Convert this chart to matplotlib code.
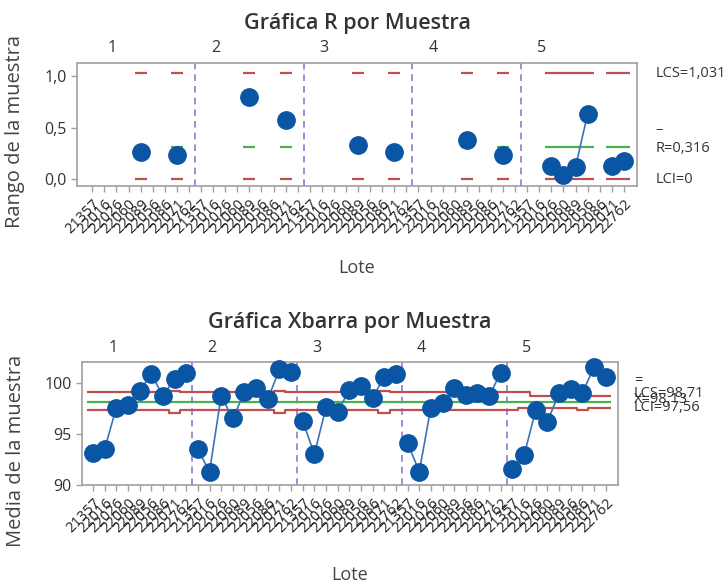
import numpy as np
import matplotlib
matplotlib.use("Agg")
import matplotlib.pyplot as plt

plt.rcParams['font.family'] = ['Open Sans', 'DejaVu Sans']

# ---------------- data ----------------
muestras = ['1', '2', '3', '4', '5']
lotes = ['21357', '22016', '22026', '22060', '22089', '22056', '22086', '22071', '22762']

# R chart: range per lote (NaN = no range)
rango = [
    [np.nan, np.nan, np.nan, np.nan, 0.27, np.nan, np.nan, 0.24, np.nan],
    [np.nan, np.nan, np.nan, np.nan, 0.805, np.nan, np.nan, 0.572, np.nan],
    [np.nan, np.nan, np.nan, np.nan, 0.33, np.nan, np.nan, 0.267, np.nan],
    [np.nan, np.nan, np.nan, np.nan, 0.378, np.nan, np.nan, 0.238, np.nan],
    [np.nan, np.nan, 0.128, 0.04, 0.12, 0.634, np.nan, 0.128, 0.18],
]
r_lcs = 1.031
r_centro = 0.316
r_lci = 0.0

# Xbar chart: mean per lote
media = [
    [93.16, 93.5, 97.56, 97.8, 99.19, 100.85, 98.7, 100.4, 100.9],
    [93.5, 91.3, 98.7, 96.5, 99.05, 99.5, 98.37, 101.3, 101.0],
    [96.25, 93.0, 97.6, 97.17, 99.28, 99.7, 98.53, 100.59, 100.8],
    [94.14, 91.3, 97.56, 97.98, 99.45, 98.8, 98.96, 98.7, 100.98],
    [91.6, 92.9, 97.33, 96.2, 98.96, 99.35, 99.0, 101.5, 100.6],
]
x_lcs = [
    [99.05, 99.05, 99.05, 99.05, 99.05, 99.05, 99.05, 99.19, 99.05],
    [99.05, 99.05, 99.05, 99.05, 99.05, 99.05, 99.05, 99.19, 99.05],
    [99.05, 99.05, 99.05, 99.05, 99.05, 99.05, 99.05, 99.19, 99.05],
    [99.05, 99.05, 99.05, 99.05, 99.05, 99.05, 99.05, 99.05, 99.05],
    [99.05, 99.05, 98.71, 98.71, 98.71, 98.71, 98.71, 98.71, 98.71],
]
x_lci = [
    [97.3, 97.3, 97.3, 97.3, 97.3, 97.3, 97.3, 97.05, 97.3],
    [97.3, 97.3, 97.3, 97.3, 97.3, 97.3, 97.3, 97.05, 97.3],
    [97.3, 97.3, 97.3, 97.3, 97.3, 97.3, 97.3, 97.05, 97.3],
    [97.3, 97.3, 97.3, 97.3, 97.3, 97.3, 97.3, 97.3, 97.3],
    [97.3, 97.56, 97.56, 97.56, 97.56, 97.56, 97.3, 97.56, 97.56],
]
x_centro = 98.13

# ---------------- style ----------------
AZUL = '#0B56A4'
LINEA = '#3A73B8'
ROJO = '#C0504D'
VERDE = '#4CAF50'
MORADO = '#8E7CCF'
GRIS = '#A0A0A0'
TXT = '#333333'

W, H = 728, 585
fig = plt.figure(figsize=(W / 100, H / 100), dpi=100)

def ax_rect(l, t, r, b):
    return [l / W, 1 - b / H, (r - l) / W, (b - t) / H]

n_por = len(lotes)
n_tot = n_por * len(muestras)
xpos = np.arange(1, n_tot + 1)
labels_all = lotes * len(muestras)


def estilo(ax):
    for s in ax.spines.values():
        s.set_color(GRIS)
        s.set_linewidth(1.2)
    ax.tick_params(axis='both', colors=GRIS, labelcolor=TXT, length=4, width=1)
    ax.tick_params(axis='y', labelsize=11.5)
    ax.set_xticks(xpos)
    ax.set_xticklabels(labels_all, rotation=45, ha='right', rotation_mode='anchor',
                       fontsize=10.5, color='#222222')
    for k in range(1, len(muestras)):
        ax.axvline(k * n_por + 0.5, color=MORADO, ls=(0, (4, 3)), lw=1.2, zorder=1)


def segmentos(ax, xs, vals, color, lw=1.6, mask=None):
    """Draw per-lote horizontal steps, only for lotes where mask is true."""
    xs = np.asarray(xs, dtype=float)
    vals = np.asarray(vals, dtype=float)
    if mask is None:
        mask = np.ones(len(xs), bool)
    runs = []
    cur = []
    for i in range(len(xs)):
        if mask[i]:
            cur.append(i)
        else:
            if cur:
                runs.append(cur)
            cur = []
    if cur:
        runs.append(cur)
    for run in runs:
        px, py = [], []
        for i in run:
            px += [xs[i] - 0.5, xs[i] + 0.5]
            py += [vals[i], vals[i]]
        ax.plot(px, py, color=color, lw=lw, zorder=2, solid_capstyle='butt')


# ---------------- R chart ----------------
axR = fig.add_axes(ax_rect(77, 62.7, 637, 185.7))
estilo(axR)
axR.set_xlim(-0.27, 46.09)
axR.set_ylim(-0.062, 1.134)
axR.set_yticks([0.0, 0.5, 1.0])
axR.set_yticklabels(['0,0', '0,5', '1,0'])
for k in range(len(muestras)):
    xs = xpos[k * n_por:(k + 1) * n_por]
    vals = np.array(rango[k], dtype=float)
    mask = ~np.isnan(vals)
    segmentos(axR, xs, np.full(n_por, r_lcs), ROJO, mask=mask)
    segmentos(axR, xs, np.full(n_por, r_lci), ROJO, mask=mask)
    segmentos(axR, xs, np.full(n_por, r_centro), VERDE, mask=mask)
    axR.plot(xs, vals, color=LINEA, lw=1.2, zorder=3)
    axR.plot(xs, vals, 'o', color=AZUL, ms=12.5, zorder=4)
    axR.text(xs[0] + (1.6 if k == 0 else 1.2), 1.2, muestras[k], fontsize=11.5,
             ha='center', va='bottom', color=TXT, clip_on=False)
axR.set_title('Gráfica R por Muestra', fontsize=15.5, color=TXT, pad=24,
              fontweight='semibold')
axR.set_ylabel('Rango de la muestra', fontsize=14.5, color='#444444')
axR.yaxis.set_label_coords(-0.092, 0.44)
axR.set_xlabel('Lote', fontsize=13, color='#444444', labelpad=16)
trR = axR.get_yaxis_transform()
axR.text(1.033, r_lcs, 'LCS=1,031', transform=trR, fontsize=10.5, va='center', color=TXT)
axR.text(1.033, r_centro + 0.17, '–', transform=trR, fontsize=10.5, va='center', color=TXT)
axR.text(1.033, r_centro - 0.02, 'R=0,316', transform=trR, fontsize=10.5, va='center', color=TXT)
axR.text(1.033, r_lci, 'LCI=0', transform=trR, fontsize=10.5, va='center', color=TXT)

# ---------------- Xbar chart ----------------
axX = fig.add_axes(ax_rect(82, 361.7, 618, 485))
estilo(axX)
axX.set_xlim(0.056, 46.06)
axX.set_ylim(90, 102.05)
axX.set_yticks([90, 95, 100])
for k in range(len(muestras)):
    xs = xpos[k * n_por:(k + 1) * n_por]
    segmentos(axX, xs, x_lcs[k], ROJO)
    segmentos(axX, xs, x_lci[k], ROJO)
    segmentos(axX, xs, np.full(n_por, x_centro), VERDE)
    axX.plot(xs, media[k], color=LINEA, lw=1.2, zorder=3)
    axX.plot(xs, media[k], 'o', color=AZUL, ms=12.5, zorder=4, clip_on=False)
    axX.text(xs[0] + (1.7 if k == 0 else 1.2), 102.6, muestras[k], fontsize=11.5,
             ha='center', va='bottom', color=TXT, clip_on=False)
axX.set_title('Gráfica Xbarra por Muestra', fontsize=15.5, color=TXT, pad=24,
              fontweight='semibold')
axX.set_ylabel('Media de la muestra', fontsize=14.5, color='#444444')
axX.yaxis.set_label_coords(-0.104, 0.28)
axX.set_xlabel('Lote', fontsize=13, color='#444444', labelpad=22)
tr = axX.get_yaxis_transform()
axX.text(1.03, 100.2, '=', transform=tr, fontsize=10.5, va='center', color=TXT)
axX.text(1.03, 98.95, 'LCS=98,71', transform=tr, fontsize=10.5, va='center', color=TXT)
axX.text(1.03, 98.4, 'X=98,13', transform=tr, fontsize=10.5, va='center', color=TXT)
axX.text(1.03, 97.6, 'LCI=97,56', transform=tr, fontsize=10.5, va='center', color=TXT)

fig.savefig('out.png', dpi=100)
